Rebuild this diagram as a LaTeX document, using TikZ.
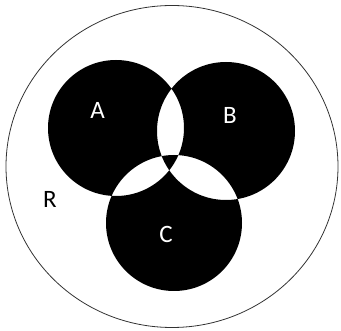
\documentclass[tikz,border=0pt]{standalone}
\usepackage{fontspec}
\setmainfont{Carlito}
\begin{document}
\begin{tikzpicture}[x=1pt,y=-1pt,
  lab/.style={font=\fontsize{25}{25}\selectfont, inner sep=0pt},
  wlab/.style={lab, text=white}]
\useasboundingbox (0,0) rectangle (341,331);
\coordinate (R) at (172,166.5);
\coordinate (A) at (116,128);
\coordinate (B) at (226,131);
\coordinate (C) at (174,223);
\draw[line width=0.8pt, black!80] (R) ellipse [x radius=166pt, y radius=161pt];
\fill[even odd rule] (A) circle [radius=68pt] (B) circle [radius=69pt] (C) circle [radius=68pt];
\node[wlab] (la) at (97.5,110.5) {A};
\node[wlab] (lb) at (230,115) {B};
\node[wlab] (lc) at (166,234) {C};
\node[lab] (lr) at (50,199) {R};
\end{tikzpicture}
\end{document}
